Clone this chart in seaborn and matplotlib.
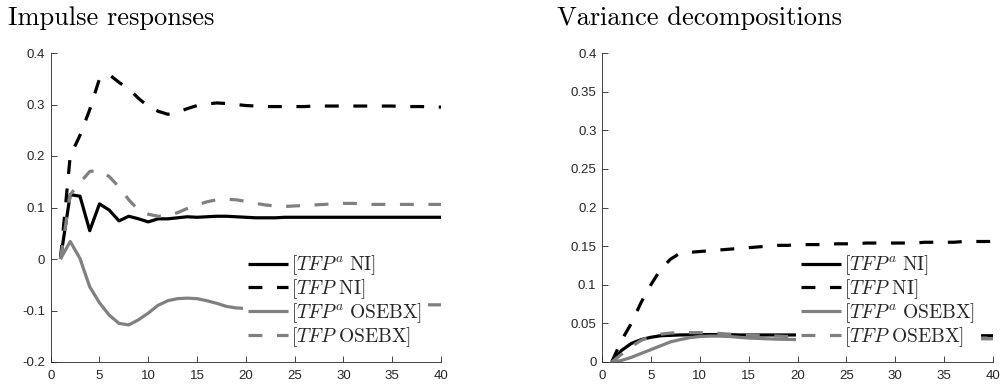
import numpy as np
import pandas as pd
import matplotlib
matplotlib.use("Agg")
import matplotlib.pyplot as plt
import seaborn as sns

# Horizon (periods)
periods = list(range(1, 41))

# Impulse responses
imp_tfpa_ni = [0, 0.125, 0.122, 0.055, 0.107, 0.095, 0.074, 0.083, 0.078, 0.072,
               0.078, 0.078, 0.080, 0.082, 0.081, 0.082, 0.083, 0.083, 0.082, 0.081,
               0.080, 0.080, 0.080, 0.081, 0.081, 0.081, 0.081, 0.081, 0.081, 0.081,
               0.081, 0.081, 0.081, 0.081, 0.081, 0.081, 0.081, 0.081, 0.081, 0.081]
imp_tfp_ni = [0, 0.200, 0.240, 0.290, 0.350, 0.358, 0.343, 0.330, 0.312, 0.296,
              0.287, 0.281, 0.285, 0.292, 0.298, 0.301, 0.303, 0.302, 0.300, 0.298,
              0.297, 0.296, 0.296, 0.296, 0.296, 0.296, 0.297, 0.297, 0.297, 0.297,
              0.297, 0.297, 0.297, 0.297, 0.297, 0.296, 0.296, 0.296, 0.295, 0.295]
imp_tfpa_osebx = [0, 0.034, 0.001, -0.054, -0.085, -0.109, -0.125, -0.128, -0.118, -0.105,
                  -0.090, -0.081, -0.077, -0.076, -0.077, -0.081, -0.086, -0.092, -0.095, -0.096,
                  -0.097, -0.097, -0.096, -0.095, -0.094, -0.093, -0.092, -0.092, -0.091, -0.091,
                  -0.090, -0.090, -0.090, -0.090, -0.089, -0.089, -0.089, -0.089, -0.089, -0.089]
imp_tfp_osebx = [0, 0.125, 0.148, 0.170, 0.172, 0.160, 0.140, 0.115, 0.095, 0.087,
                 0.083, 0.084, 0.090, 0.098, 0.105, 0.111, 0.115, 0.116, 0.115, 0.112,
                 0.108, 0.105, 0.103, 0.102, 0.103, 0.104, 0.105, 0.106, 0.107, 0.108,
                 0.108, 0.107, 0.106, 0.106, 0.106, 0.106, 0.106, 0.106, 0.106, 0.106]

# Variance decompositions
vd_tfpa_ni = [0, 0.015, 0.024, 0.029, 0.032, 0.034, 0.0345, 0.035, 0.0352, 0.0355,
              0.0355, 0.0355, 0.0355, 0.035, 0.035, 0.035, 0.035, 0.035, 0.035, 0.035,
              0.035, 0.0348, 0.0348, 0.0346, 0.0346, 0.0345, 0.0345, 0.0344, 0.0344, 0.0343,
              0.0343, 0.0342, 0.0342, 0.0341, 0.0341, 0.034, 0.034, 0.034, 0.034, 0.034]
vd_tfp_ni = [0, 0.028, 0.050, 0.077, 0.100, 0.120, 0.133, 0.141, 0.142, 0.143,
             0.144, 0.145, 0.146, 0.147, 0.148, 0.149, 0.150, 0.151, 0.151, 0.152,
             0.152, 0.152, 0.152, 0.153, 0.153, 0.153, 0.154, 0.154, 0.154, 0.154,
             0.154, 0.154, 0.155, 0.155, 0.155, 0.155, 0.156, 0.156, 0.156, 0.156]
vd_tfpa_osebx = [0, 0.002, 0.006, 0.011, 0.016, 0.021, 0.026, 0.029, 0.0315, 0.033,
                 0.0335, 0.0335, 0.033, 0.032, 0.031, 0.0305, 0.030, 0.0295, 0.0293, 0.029,
                 0.029, 0.029, 0.029, 0.029, 0.029, 0.0292, 0.0292, 0.0294, 0.0294, 0.0295,
                 0.0295, 0.0296, 0.0297, 0.0298, 0.0298, 0.0299, 0.030, 0.030, 0.030, 0.030]
vd_tfp_osebx = [0, 0.010, 0.020, 0.028, 0.033, 0.036, 0.0375, 0.038, 0.038, 0.038,
                0.0375, 0.037, 0.036, 0.0355, 0.035, 0.0345, 0.034, 0.0335, 0.033, 0.0328,
                0.0326, 0.0324, 0.0322, 0.032, 0.032, 0.0318, 0.0316, 0.0315, 0.0314, 0.0313,
                0.0312, 0.0311, 0.031, 0.031, 0.031, 0.031, 0.031, 0.031, 0.031, 0.031]

series_labels = [r"$[TFP^a\ \mathrm{NI}]$", r"$[TFP\ \mathrm{NI}]$",
                 r"$[TFP^a\ \mathrm{OSEBX}]$", r"$[TFP\ \mathrm{OSEBX}]$"]
left_ticks = [-0.2, -0.1, 0, 0.1, 0.2, 0.3, 0.4]
left_ticklabels = ["-0.2", "-0.1", "0", "0.1", "0.2", "0.3", "0.4"]
right_ticks = [0, 0.05, 0.1, 0.15, 0.2, 0.25, 0.3, 0.35, 0.4]
right_ticklabels = ["0", "0.05", "0.1", "0.15", "0.2", "0.25", "0.3", "0.35", "0.4"]
x_ticks = [0, 5, 10, 15, 20, 25, 30, 35, 40]

sns.set_theme(style="ticks")
plt.rcParams.update({
    "font.family": ["cmr10", "DejaVu Serif"],
    "mathtext.fontset": "cm",
    "axes.formatter.use_mathtext": True,
    "lines.scale_dashes": False,
    "lines.solid_capstyle": "butt",
    "lines.dash_capstyle": "butt",
})

ink = "#262626"
gray = "#808080"
palette = {series_labels[0]: "black", series_labels[1]: "black",
           series_labels[2]: gray, series_labels[3]: gray}
dash_map = {series_labels[0]: "", series_labels[1]: (10, 10.5),
            series_labels[2]: "", series_labels[3]: (10, 10.5)}


def long_frame(columns):
    parts = []
    for lab, vals in zip(series_labels, columns):
        parts.append(pd.DataFrame({"period": periods, "value": vals, "series": lab}))
    return pd.concat(parts, ignore_index=True)


W, H = 1001, 388
fig = plt.figure(figsize=(W / 100, H / 100), dpi=100)
ax1 = fig.add_axes([50.7 / W, 1 - 362 / H, (441 - 50.7) / W, (362 - 53) / H])
ax2 = fig.add_axes([602 / W, 1 - 362 / H, (993 - 602) / W, (362 - 53) / H])

panels = [
    (ax1, long_frame([imp_tfpa_ni, imp_tfp_ni, imp_tfpa_osebx, imp_tfp_osebx]),
     (-0.2, 0.4), left_ticks, left_ticklabels, 242.5),
    (ax2, long_frame([vd_tfpa_ni, vd_tfp_ni, vd_tfpa_osebx, vd_tfp_osebx]),
     (0, 0.4), right_ticks, right_ticklabels, 795.5),
]

for ax, df, ylim, yt, ytl, leg_x in panels:
    sns.lineplot(data=df, x="period", y="value", hue="series", style="series",
                 palette=palette, dashes=dash_map, linewidth=2.3, ax=ax,
                 legend=True)
    ax.set_xlim(0, 40)
    ax.set_ylim(*ylim)
    ax.set_xticks(x_ticks)
    ax.set_xticklabels([str(t) for t in x_ticks])
    ax.set_yticks(yt)
    ax.set_yticklabels(ytl)
    ax.set_xlabel("")
    ax.set_ylabel("")
    for s in ("top", "right"):
        ax.spines[s].set_visible(False)
    for s in ("left", "bottom"):
        ax.spines[s].set_color(ink)
        ax.spines[s].set_linewidth(0.6)
    ax.tick_params(direction="in", length=4, width=0.6, color=ink,
                   labelcolor=ink, labelsize=9.5)
    ax.tick_params(axis="y", pad=4)
    ax.tick_params(axis="x", pad=6)
    for lbl in ax.get_xticklabels() + ax.get_yticklabels():
        lbl.set_fontfamily("Liberation Sans")
    handles, labels = ax.get_legend_handles_labels()
    leg = ax.legend(handles, labels, loc="center left",
                    bbox_to_anchor=(leg_x / W, 1 - 301 / H),
                    bbox_transform=fig.transFigure,
                    frameon=True, framealpha=1, facecolor="white",
                    edgecolor="none", fancybox=False,
                    fontsize=14, handlelength=2.05, handletextpad=0.14,
                    labelspacing=0.0, borderpad=0.3, borderaxespad=0)
    for line in leg.get_lines():
        line.set_linewidth(2.3)

fig.text(8 / W, 1 - 25 / H, "Impulse responses", fontsize=19,
         color="black", va="baseline", ha="left")
fig.text(557 / W, 1 - 25 / H, "Variance decompositions", fontsize=19,
         color="black", va="baseline", ha="left")

fig.savefig("out.png", dpi=100, facecolor="white")
